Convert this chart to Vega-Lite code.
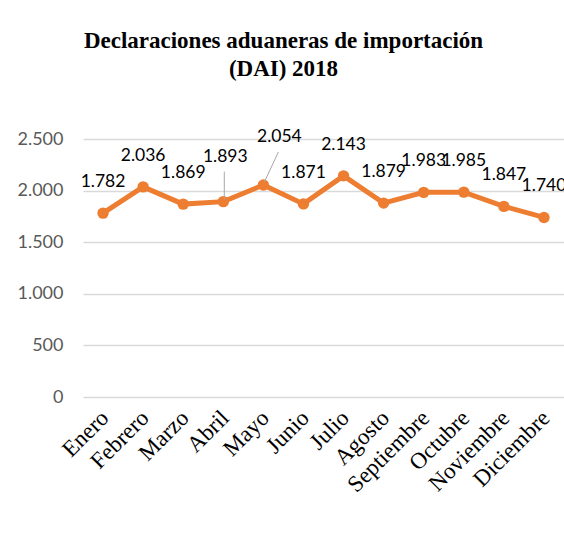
{
  "$schema": "https://vega.github.io/schema/vega-lite/v6.json",
  "autosize": "none",
  "padding": {"left": 83, "top": 139, "right": 0, "bottom": 152},
  "width": 481,
  "height": 258,
  "background": "white",
  "config": {
    "view": {"stroke": null},
    "locale": {"number": {"decimal": ",", "thousands": ".", "grouping": [3], "currency": ["", " €"]}}
  },
  "title": {
    "text": ["Declaraciones aduaneras de importación", "(DAI) 2018"],
    "font": "Liberation Serif",
    "fontSize": 23,
    "fontWeight": "bold",
    "color": "#000000",
    "lineHeight": 28,
    "anchor": "middle",
    "dx": -40,
    "offset": 47
  },
  "data": {
    "values": [
      {"mes": "Enero", "valor": 1782},
      {"mes": "Febrero", "valor": 2036},
      {"mes": "Marzo", "valor": 1869},
      {"mes": "Abril", "valor": 1893},
      {"mes": "Mayo", "valor": 2054},
      {"mes": "Junio", "valor": 1871},
      {"mes": "Julio", "valor": 2143},
      {"mes": "Agosto", "valor": 1879},
      {"mes": "Septiembre", "valor": 1983},
      {"mes": "Octubre", "valor": 1985},
      {"mes": "Noviembre", "valor": 1847},
      {"mes": "Diciembre", "valor": 1740}
    ]
  },
  "encoding": {
    "x": {
      "field": "mes", "type": "nominal", "sort": null, "title": null,
      "scale": {"paddingInner": 0, "paddingOuter": 0},
      "axis": {
        "labelAngle": -45, "labelFont": "Liberation Serif", "labelFontSize": 23,
        "labelColor": "#000000", "ticks": false, "domain": false, "labelPadding": 17,
        "labelBaseline": "middle", "labelAlign": "right", "labelOffset": 2,
        "grid": false
      }
    },
    "y": {
      "field": "valor", "type": "quantitative", "title": null,
      "scale": {"domain": [0, 2500]},
      "axis": {
        "values": [0, 500, 1000, 1500, 2000, 2500],
        "labelExpr": "replace(format(datum.value, ',d'), ',', '.')",
        "labelFont": "Lato", "labelFontSize": 18, "labelColor": "#595959",
        "ticks": false, "domain": false, "labelPadding": 20,
        "gridColor": "#d9d9d9", "gridWidth": 1.5
      }
    }
  },
  "layer": [
    {"mark": {"type": "line", "color": "#ED7D31", "strokeWidth": 5}},
    {"mark": {"type": "point", "filled": true, "color": "#ED7D31", "size": 130, "opacity": 1}},
    {
      "transform": [{"filter": "datum.mes === 'Abril'"}],
      "mark": {"type": "rule", "color": "#a6a6a6", "strokeWidth": 1, "xOffset": 1, "x2Offset": 1, "yOffset": -2, "y2Offset": -30},
      "encoding": {"x2": {"field": "mes"}, "y2": {"field": "valor"}}
    },
    {
      "transform": [{"filter": "datum.mes === 'Mayo'"}],
      "mark": {"type": "rule", "color": "#a6a6a6", "strokeWidth": 1, "xOffset": 1, "x2Offset": 15, "yOffset": -3, "y2Offset": -33},
      "encoding": {"x2": {"field": "mes"}, "y2": {"field": "valor"}}
    },
    {
      "transform": [{"filter": "datum.mes !== 'Abril' && datum.mes !== 'Mayo'"}],
      "mark": {"type": "text", "font": "Lato", "fontSize": 17.5, "color": "#000000", "dy": -31, "baseline": "middle"},
      "encoding": {"text": {"field": "valor", "type": "quantitative", "format": ","}}
    },
    {
      "transform": [{"filter": "datum.mes === 'Abril'"}],
      "mark": {"type": "text", "font": "Lato", "fontSize": 17.5, "color": "#000000", "dx": 2, "dy": -45, "baseline": "middle"},
      "encoding": {"text": {"field": "valor", "type": "quantitative", "format": ","}}
    },
    {
      "transform": [{"filter": "datum.mes === 'Mayo'"}],
      "mark": {"type": "text", "font": "Lato", "fontSize": 17.5, "color": "#000000", "dx": 16, "dy": -48, "baseline": "middle"},
      "encoding": {"text": {"field": "valor", "type": "quantitative", "format": ","}}
    }
  ]
}
